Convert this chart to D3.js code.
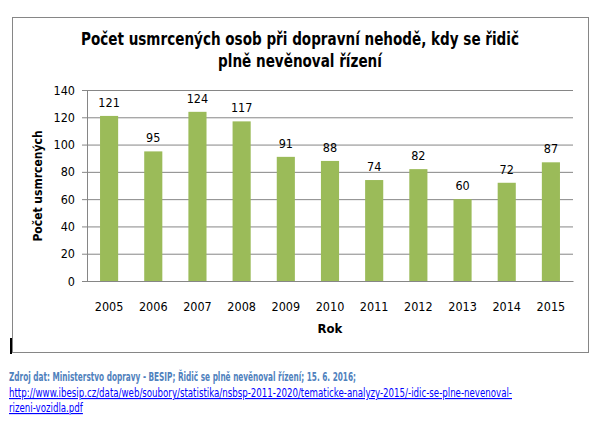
<!DOCTYPE html>
<html>
<head>
<meta charset="utf-8">
<script src="https://cdn.jsdelivr.net/npm/d3@7"></script>
<style>
  body { margin: 0; background: #fff; }
  svg text { font-family: "DejaVu Sans Condensed", "Liberation Sans Narrow", "Open Sans", sans-serif; }
</style>
</head>
<body>
<div id="chart"></div>
<script>
// data
const years = ["2005", "2006", "2007", "2008", "2009", "2010", "2011", "2012", "2013", "2014", "2015"];
const killed = [121, 95, 124, 117, 91, 88, 74, 82, 60, 72, 87];
const yTicks = [0, 20, 40, 60, 80, 100, 120, 140];

const titleLines = ["Počet usmrcených osob při dopravní nehodě, kdy se řidič", "plně nevěnoval řízení"];
const yLabel = "Počet usmrcených";
const xLabel = "Rok";
const sourceLines = ["Zdroj dat: Ministerstvo dopravy - BESIP; Řidič se plně nevěnoval řízení; 15. 6. 2016;"];
const linkLines = ["http://www.ibesip.cz/data/web/soubory/statistika/nsbsp-2011-2020/tematicke-analyzy-2015/-idic-se-plne-nevenoval-", "rizeni-vozidla.pdf"];

const svgWidth = 616, svgHeight = 425;
const plot = { left: 87, right: 573, top: 90, bottom: 281 };

const svg = d3.select("#chart")
  .append("svg")
  .attr("width", svgWidth)
  .attr("height", svgHeight);

// squeeze the lines of a text block horizontally so the first one is as wide as in the reference
function squeeze(textSel, targetWidth) {
  const spans = textSel.selectAll("tspan");
  const factor = targetWidth / spans.node().getComputedTextLength();
  spans.each(function () {
    const w = this.getComputedTextLength();
    d3.select(this)
      .attr("textLength", (w * factor).toFixed(1))
      .attr("lengthAdjust", "spacingAndGlyphs");
  });
}

// chart frame
svg.append("rect")
  .attr("x", 12.5).attr("y", 17.5)
  .attr("width", 576).attr("height", 335)
  .attr("fill", "#fff")
  .attr("stroke", "#868686")
  .attr("stroke-width", 1);
svg.append("rect")
  .attr("x", 10).attr("y", 338)
  .attr("width", 2).attr("height", 16)
  .attr("fill", "#000");

// title
const title = svg.append("text")
  .attr("class", "chart-title")
  .attr("text-anchor", "middle")
  .attr("font-weight", "bold")
  .attr("font-size", 17.5);
title.selectAll("tspan")
  .data(titleLines)
  .join("tspan")
  .attr("x", 300)
  .attr("y", (d, i) => 45 + i * 22)
  .text((d) => d);
squeeze(title, 438);

const x = d3.scaleBand()
  .domain(years)
  .range([plot.left, plot.right])
  .paddingInner(0.59)
  .paddingOuter(0.295);

const y = d3.scaleLinear()
  .domain([0, 140])
  .range([plot.bottom, plot.top]);

// grid lines
svg.append("g")
  .attr("class", "y-grid-line")
  .attr("transform", `translate(${plot.left},0)`)
  .call(d3.axisLeft(y).tickValues(yTicks).tickSize(-(plot.right - plot.left)).tickFormat(""))
  .call((g) => g.select(".domain").remove())
  .call((g) => g.selectAll("line").attr("stroke", "#868686"));

// y axis
const yAxis = svg.append("g")
  .attr("transform", `translate(${plot.left},0)`)
  .call(d3.axisLeft(y).tickValues(yTicks).tickSize(5).tickPadding(7));
yAxis.select(".domain").attr("stroke", "#868686");
yAxis.selectAll("line").attr("stroke", "#868686");
yAxis.selectAll("text").attr("font-size", 12.5).attr("fill", "#000");

// bars
svg.append("g")
  .selectAll("rect")
  .data(killed)
  .join("rect")
  .attr("x", (d, i) => x(years[i]))
  .attr("y", (d) => y(d))
  .attr("width", x.bandwidth())
  .attr("height", (d) => y(0) - y(d))
  .attr("fill", "#9bbb59");

// value labels
svg.append("g")
  .selectAll("text")
  .data(killed)
  .join("text")
  .attr("x", (d, i) => x(years[i]) + x.bandwidth() / 2)
  .attr("y", (d) => y(d) - 9)
  .attr("text-anchor", "middle")
  .attr("font-size", 12.5)
  .text((d) => d);

// x axis
const xAxis = svg.append("g")
  .attr("transform", `translate(0,${plot.bottom})`)
  .call(d3.axisBottom(x).tickSize(0).tickPadding(21));
xAxis.select(".domain").attr("stroke", "#868686");
xAxis.selectAll("text").attr("font-size", 12.5).attr("fill", "#000");

// axis titles
svg.append("text")
  .attr("x", 330).attr("y", 333)
  .attr("text-anchor", "middle")
  .attr("font-weight", "bold")
  .attr("font-size", 13)
  .text(xLabel);

svg.append("text")
  .attr("transform", `translate(42,186) rotate(-90)`)
  .attr("text-anchor", "middle")
  .attr("font-weight", "bold")
  .attr("font-size", 12)
  .text(yLabel);

// source note
const source = svg.append("text")
  .attr("font-size", 11.5)
  .attr("font-weight", "bold")
  .attr("fill", "#4f81bd");
source.selectAll("tspan")
  .data(sourceLines)
  .join("tspan")
  .attr("x", 9)
  .attr("y", 381)
  .text((d) => d);
squeeze(source, 347);

const link = svg.append("text")
  .attr("font-size", 11.5)
  .attr("fill", "#0000ff")
  .attr("text-decoration", "underline");
link.selectAll("tspan")
  .data(linkLines)
  .join("tspan")
  .attr("x", 9)
  .attr("y", (d, i) => 397 + i * 15)
  .text((d) => d);
squeeze(link, 503);
</script>
</body>
</html>
